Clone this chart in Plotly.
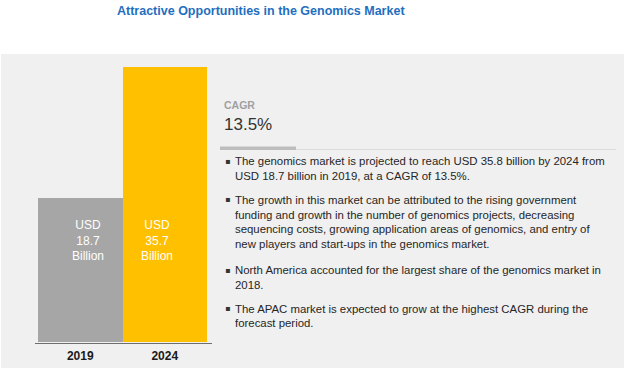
import plotly.graph_objects as go

years = ["2019", "2024"]
values = [18.7, 35.7]
bar_labels = ["USD<br>18.7<br>Billion", "USD<br>35.7<br>Billion"]
bar_colors = ["#a6a6a6", "#ffc000"]
title_text = "Attractive Opportunities in the Genomics Market"
cagr_label = "CAGR"
cagr_value = "13.5%"
bullet_paragraphs = [
    ["The genomics market is projected to reach USD 35.8 billion by 2024 from",
     "USD 18.7 billion in 2019, at a CAGR of 13.5%."],
    ["The growth in this market can be attributed to the rising government",
     "funding and growth in the number of genomics projects, decreasing",
     "sequencing costs, growing application areas of genomics, and entry of",
     "new players and start-ups in the genomics market."],
    ["North America accounted for the largest share of the genomics market in",
     "2018."],
    ["The APAC market is expected to grow at the highest CAGR during the",
     "forecast period."],
]

W, H = 629, 371
def px(x):
    return x / W
def py(y):
    return 1 - y / H

FONT = "Liberation Sans, Arial, sans-serif"

fig = go.Figure()
fig.add_trace(go.Bar(
    x=years, y=values, marker=dict(color=bar_colors, line=dict(width=0)),
    width=1.0, hoverinfo="skip", showlegend=False,
))

y_top_px = 342 - 40 * (275 / 35.7)
fig.update_layout(
    width=W, height=H, autosize=False,
    margin=dict(l=0, r=0, t=0, b=0),
    paper_bgcolor="white", plot_bgcolor="rgba(0,0,0,0)",
    bargap=0,
    xaxis=dict(domain=[px(38), px(207)], range=[-0.5, 1.5], showgrid=False,
               zeroline=False, showline=False, ticks="",
               tickfont=dict(family=FONT, size=12, color="#1a1a1a", weight="bold"),
               ticklabelstandoff=5, fixedrange=True),
    yaxis=dict(domain=[py(342), py(y_top_px)], range=[0, 40], visible=False, fixedrange=True),
)

shapes = []
shapes.append(dict(type="rect", xref="paper", yref="paper", x0=px(1), x1=px(624),
                   y0=py(368), y1=py(54), fillcolor="#f0f0f0", line=dict(width=0), layer="below"))
shapes.append(dict(type="line", xref="paper", yref="paper", x0=px(35), x1=px(212),
                   y0=py(343.5), y1=py(343.5), line=dict(color="#6e6e6e", width=1.2)))
shapes.append(dict(type="line", xref="paper", yref="paper", x0=px(220), x1=px(616),
                   y0=py(149.5), y1=py(149.5), line=dict(color="#dcdcdc", width=1)))
shapes.append(dict(type="rect", xref="paper", yref="paper", x0=px(220), x1=px(296),
                   y0=py(150), y1=py(146.5), fillcolor="#bdbdbd", line=dict(width=0)))
fig.update_layout(shapes=shapes)

ann = []
ann.append(dict(text="<b>" + title_text + "</b>", x=px(261), y=py(11), xref="paper", yref="paper",
                xanchor="center", yanchor="middle", showarrow=False,
                font=dict(family=FONT, size=12.5, color="#1f6fbf")))
for i, (yr, v, lab) in enumerate(zip(years, values, bar_labels)):
    ann.append(dict(text=lab, x=i - 0.5 + [0.59, 0.41][i], y=13.2, xref="x", yref="y",
                    xanchor="center", yanchor="middle", showarrow=False, align="center",
                    font=dict(family=FONT, size=12, color="white")))
ann.append(dict(text="<b>" + cagr_label + "</b>", x=px(222), y=py(105), xref="paper", yref="paper",
                xanchor="left", yanchor="middle", showarrow=False,
                font=dict(family=FONT, size=10.5, color="#a0a0a0")))
ann.append(dict(text=cagr_value, x=px(222), y=py(124), xref="paper", yref="paper",
                xanchor="left", yanchor="middle", showarrow=False,
                font=dict(family=FONT, size=17, color="#333333")))

line_ys = [[161, 176], [200, 215, 229.5, 244], [270, 284.5], [308.5, 323]]
for para, ys in zip(bullet_paragraphs, line_ys):
    ann.append(dict(text="▪", x=px(223), y=py(ys[0]), xref="paper", yref="paper",
                    xanchor="left", yanchor="middle", showarrow=False,
                    font=dict(family="DejaVu Sans", size=8, color="#333333")))
    for line, yy in zip(para, ys):
        ann.append(dict(text=line, x=px(233), y=py(yy), xref="paper", yref="paper",
                        xanchor="left", yanchor="middle", showarrow=False,
                        font=dict(family=FONT, size=11.4, color="#262626")))
fig.update_layout(annotations=ann)

fig.write_html("out.html", config={"displayModeBar": False, "staticPlot": True},
               post_script="document.body.style.margin='0';document.body.style.overflow='hidden';")
